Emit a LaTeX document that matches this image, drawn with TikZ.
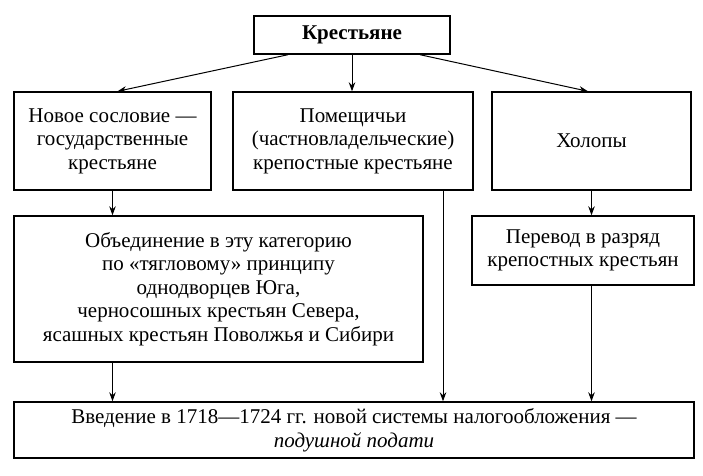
\documentclass[tikz,border=0pt]{standalone}
\usepackage{fontspec}
\setmainfont{Liberation Serif}
\usetikzlibrary{arrows.meta}
\begin{document}
\begin{tikzpicture}[x=1pt,y=-1pt,
  box/.style={draw, line width=1.4pt, align=center, inner sep=0pt,
    font=\fontsize{21}{23.5}\selectfont},
  conn/.style={line width=1pt, -{Stealth[length=9pt,width=6.5pt]}}]
\useasboundingbox (0,0) rectangle (703,475);
\node[box, minimum width=196pt, minimum height=38pt, font=\fontsize{21}{23.5}\selectfont\bfseries] (top) at (352,35) {Крестьяне};
\node[box, minimum width=197pt, minimum height=98pt] (gos) at (112.5,141) {Новое сословие —\\государственные\\крестьяне};
\node[box, minimum width=240pt, minimum height=98pt] (pom) at (353,141) {Помещичьи\\(частновладельческие)\\крепостные крестьяне};
\node[box, minimum width=199pt, minimum height=98pt] (hol) at (591.5,141) {Холопы};
\node[box, minimum width=409pt, minimum height=146pt] (obj) at (218.5,289) {Объединение в эту категорию\\по «тягловому» принципу\\однодворцев Юга,\\черносошных крестьян Севера,\\ясашных крестьян Поволжья и Сибири};
\node[box, minimum width=222pt, minimum height=69pt] (per) at (583,250.5) {Перевод в разряд\\крепостных крестьян};
\node[box, minimum width=680pt, minimum height=56pt] (bot) at (354,430) {Введение в 1718—1724 гг. новой системы налогообложения —\\\textit{подушной подати}};
\draw[conn] ([xshift=-64pt]top.south) -- ([xshift=5pt]gos.north);
\draw[conn] (top.south) -- (top.south |- pom.north);
\draw[conn] ([xshift=68pt]top.south) -- ([xshift=-3.5pt]hol.north);
\draw[conn] (gos.south) -- (gos.south |- obj.north);
\draw[conn] (hol.south) -- (hol.south |- per.north);
\draw[conn] ([xshift=90pt]pom.south) -- ([xshift=90pt]pom.south |- bot.north);
\draw[conn] (gos.south |- obj.south) -- (gos.south |- bot.north);
\draw[conn] (hol.south |- per.south) -- (hol.south |- bot.north);
\end{tikzpicture}
\end{document}
